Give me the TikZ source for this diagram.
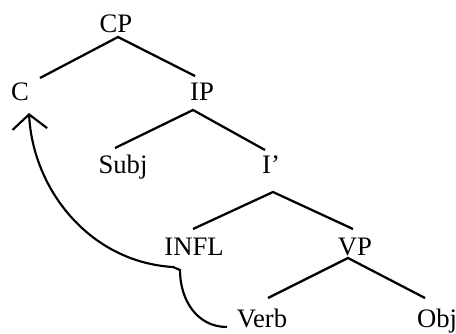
\documentclass[tikz,border=0pt]{standalone}
\usepackage{fontspec}
\setmainfont{Liberation Serif}
\usetikzlibrary{arrows.meta}

\begin{document}
\begin{tikzpicture}[x=0.75pt,y=-0.75pt]

\tikzset{cat/.style = {anchor=base,inner sep=0pt,font=\fontsize{20}{22}\selectfont}}
\tikzset{branch/.style = {line width=1.7pt}}
\tikzset{move/.style = {line width=1.6pt,-{Straight Barb[length=11pt,width=26pt,line width=1.6pt]}}}
\useasboundingbox (0,0) rectangle (456,333);
%categories
\node[cat] (cp) at (116,32) {CP};
\node[cat] (c) at (20,100) {C};
\node[cat] (ip) at (202,100) {IP};
\node[cat] (subj) at (123,173) {Subj};
\node[cat] (ibar) at (271,173) {I’};
\node[cat] (infl) at (194,255) {INFL};
\node[cat] (vp) at (355,255) {VP};
\node[cat] (verb) at (262,327) {Verb};
\node[cat] (obj) at (437,327) {Obj};
%branch points
\coordinate (cpB) at (118,37);
\coordinate (cT) at (40,78);
\coordinate (ipT) at (195,76);
\coordinate (ipB) at (193,110);
\coordinate (subjT) at (115,148);
\coordinate (ibarT) at (265,150);
\coordinate (ibarB) at (273,192);
\coordinate (inflT) at (193,229);
\coordinate (vpT) at (353,229);
\coordinate (vpB) at (348,258);
\coordinate (verbT) at (268,298);
\coordinate (objT) at (425,298);
%branches
\draw[branch] (cT) -- (cpB) -- (ipT);
\draw[branch] (subjT) -- (ipB) -- (ibarT);
\draw[branch] (inflT) -- (ibarB) -- (vpT);
\draw[branch] (verbT) -- (vpB) -- (objT);
%movement
\coordinate (tail) at (227,327);
\coordinate (kinkA) at (180,270);
\coordinate (kinkB) at (173,267);
\coordinate (cTip) at (29,113);
\draw[move] (tail) .. controls (197,327) and (180,300) .. (kinkA) -- (kinkB)
  .. controls (90,262) and (33,190) .. (cTip);

\end{tikzpicture}
\end{document}
